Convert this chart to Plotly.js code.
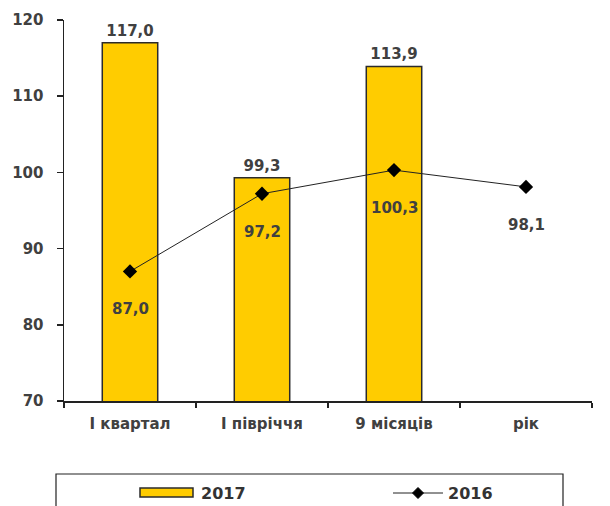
<!DOCTYPE html>
<html>
<head>
<meta charset="utf-8">
<script src="https://cdn.plot.ly/plotly-3.0.1.min.js"></script>
<style>html,body{margin:0;padding:0;background:#fff;}#chart{width:610px;height:506px;}</style>
</head>
<body>
<div id="chart"></div>
<script>
const categories = ["І квартал", "І півріччя", "9 місяців", "рік"];
const values2017 = [117.0, 99.3, 113.9, null];
const values2016 = [87.0, 97.2, 100.3, 98.1];
const seriesNames = ["2017", "2016"];
const yTicks = [70, 80, 90, 100, 110, 120];

const fmt = v => v.toFixed(1).replace('.', ',');
const FONT = "DejaVu Sans, Verdana, sans-serif";
const labelColor = "#404040";

const bar = {
  type: 'bar', x: categories, y: values2017, name: seriesNames[0],
  width: 0.42,
  marker: {color: '#FFCC00', line: {color: '#2b2b2b', width: 1.5}},
  text: values2017.map(v => v == null ? '' : fmt(v)),
  textposition: 'outside', cliponaxis: false,
  textfont: {family: FONT, size: 15, color: labelColor, weight: 'bold'},
  hoverinfo: 'skip', showlegend: false
};
const line = {
  type: 'scatter', mode: 'lines+markers', x: categories, y: values2016, name: seriesNames[1],
  line: {color: '#222', width: 1},
  marker: {symbol: 'diamond', size: 11, color: '#000'},
  hoverinfo: 'skip', showlegend: false
};

const annotations = values2016.map((v, i) => ({
  x: categories[i], y: v, xref: 'x', yref: 'y', text: fmt(v), showarrow: false,
  yshift: -38, font: {family: FONT, size: 15, color: labelColor, weight: 'bold'}
}));

// manual legend (paper coordinates)
const px = p => (p - 64) / 528;
const py = p => (401 - p) / 381;
annotations.push(
  {xref: 'paper', yref: 'paper', x: px(199), y: py(493), xanchor: 'left', yanchor: 'middle',
   text: seriesNames[0], showarrow: false, font: {family: FONT, size: 16, color: '#333', weight: 'bold'}},
  {xref: 'paper', yref: 'paper', x: px(446), y: py(493), xanchor: 'left', yanchor: 'middle',
   text: seriesNames[1], showarrow: false, font: {family: FONT, size: 16, color: '#333', weight: 'bold'}}
);
const dX = 5.5 / 528, dY = 5.5 / 381;
const cx = px(418), cy = py(493);
const shapes = [
  {type: 'rect', xref: 'paper', yref: 'paper', x0: px(56), x1: px(563), y0: py(474), y1: py(530),
   line: {color: '#222', width: 1.2}, fillcolor: 'rgba(0,0,0,0)'},
  {type: 'rect', xref: 'paper', yref: 'paper', x0: px(140), x1: px(193), y0: py(488), y1: py(497),
   line: {color: '#2b2b2b', width: 1.5}, fillcolor: '#FFCC00'},
  {type: 'line', xref: 'paper', yref: 'paper', x0: px(393), x1: px(443), y0: cy, y1: cy,
   line: {color: '#222', width: 1}},
  {type: 'path', xref: 'paper', yref: 'paper',
   path: `M ${cx - dX} ${cy} L ${cx} ${cy + dY} L ${cx + dX} ${cy} L ${cx} ${cy - dY} Z`,
   line: {color: '#000', width: 1}, fillcolor: '#000'}
];

const layout = {
  width: 610, height: 506,
  margin: {l: 64, r: 18, t: 20, b: 105},
  paper_bgcolor: '#fff', plot_bgcolor: '#fff',
  font: {family: FONT, size: 13, color: labelColor},
  showlegend: false,
  bargap: 0.58,
  xaxis: {
    type: 'category', showline: true, linecolor: '#222', linewidth: 1.5,
    ticks: 'outside', ticklen: 5, tickcolor: '#222', tickwidth: 1.5, tickson: 'boundaries',
    showgrid: false, zeroline: false, automargin: false, ticklabelstandoff: 8,
    tickfont: {family: FONT, size: 15, color: labelColor, weight: 'bold'}
  },
  yaxis: {
    range: [70, 120], tickvals: yTicks, ticktext: yTicks.map(String),
    showline: true, linecolor: '#222', linewidth: 1.5,
    ticks: 'outside', ticklen: 6, tickcolor: '#222', tickwidth: 1.5,
    showgrid: false, zeroline: false, automargin: false, ticklabelstandoff: 10,
    tickfont: {family: FONT, size: 15, color: labelColor, weight: 'bold'}
  },
  annotations: annotations,
  shapes: shapes
};

Plotly.newPlot('chart', [bar, line], layout, {staticPlot: true, displayModeBar: false});
</script>
</body>
</html>
